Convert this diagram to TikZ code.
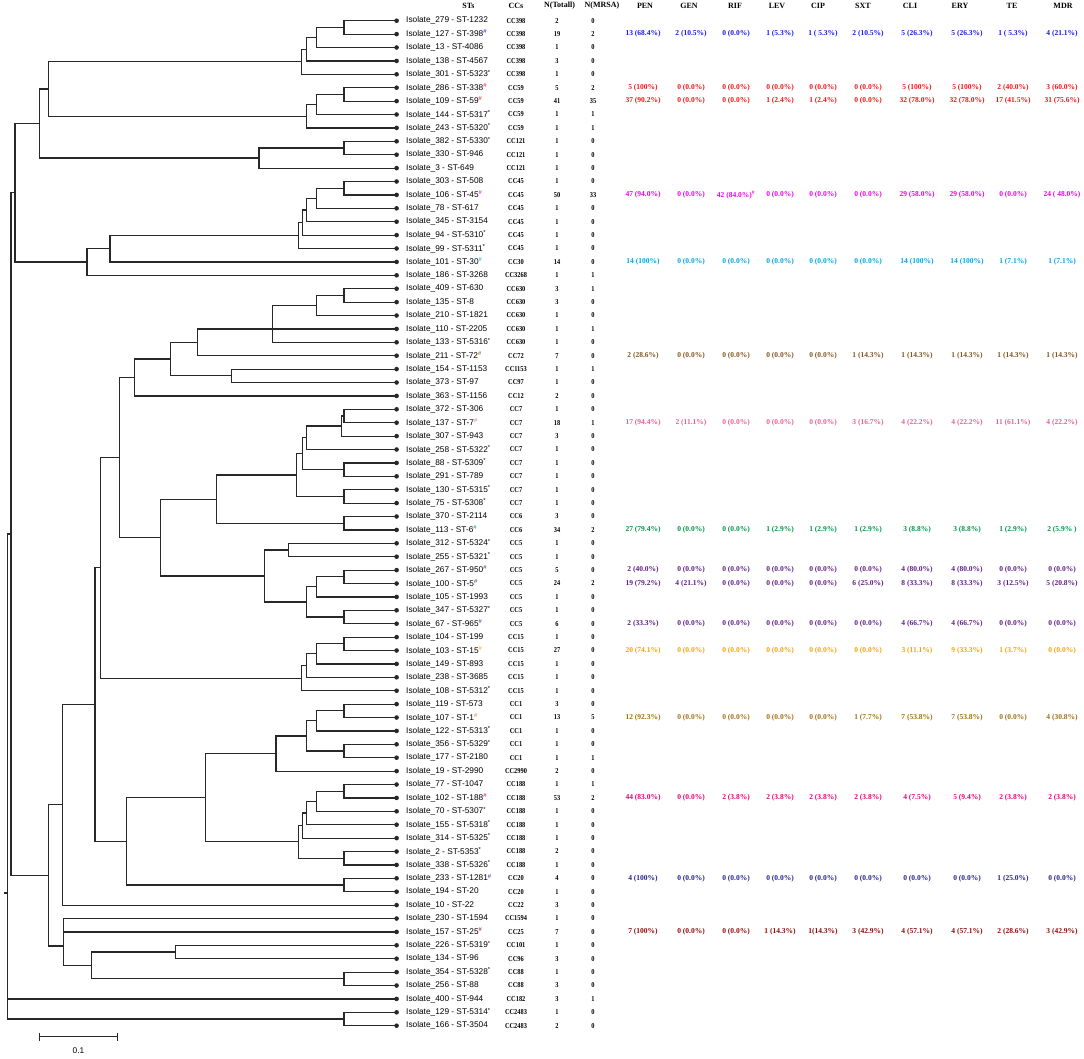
\documentclass[tikz,border=0pt]{standalone}
\usepackage{fontspec}
\setmainfont{Liberation Serif}
\newfontfamily\labfont{Liberation Sans}
\newfontfamily\ccfont[FakeStretch=0.85]{Liberation Serif}
\usetikzlibrary{calc}
\definecolor{cblue}{RGB}{25,25,235}
\definecolor{cred}{RGB}{245,20,20}
\definecolor{cmag}{RGB}{235,0,235}
\definecolor{clblue}{RGB}{0,165,230}
\definecolor{cbrown}{RGB}{130,85,30}
\definecolor{cpink}{RGB}{235,95,155}
\definecolor{cgreen}{RGB}{0,150,70}
\definecolor{cpurple}{RGB}{95,30,135}
\definecolor{corange}{RGB}{245,165,0}
\definecolor{corangeb}{RGB}{235,120,30}
\definecolor{cgold}{RGB}{165,110,20}
\definecolor{cdpink}{RGB}{230,0,115}
\definecolor{cnavy}{RGB}{35,35,140}
\definecolor{cdred}{RGB}{145,10,10}
\definecolor{treec}{RGB}{40,40,40}
\newcommand\myast{\textsuperscript{*}}
\newcommand\myhash[1]{\textsuperscript{\textcolor{#1}{\#}}}
\tikzset{
  br/.style={draw=treec, line width=1.2pt},
  lbl/.style={anchor=west, inner sep=0pt, font=\labfont\fontsize{8.3}{10}\selectfont},
  ccl/.style={inner sep=0pt, font=\ccfont\bfseries\fontsize{7.5}{9}\selectfont},
  hdr/.style={inner sep=0pt, font=\bfseries\fontsize{8}{9}\selectfont},
  dat/.style={inner sep=0pt, font=\bfseries\fontsize{7.5}{9}\selectfont},
}
% internal node: name, x, child a, child b (y = midpoint of children)
\newcommand\nd[4]{%
  \path let \p1=(#3), \p2=(#4) in coordinate (#1) at (#2pt,{(\y1+\y2)/2});
  \draw[br] (#1) |- (#3);
  \draw[br] (#1) |- (#4);
}
\begin{document}
\begin{tikzpicture}[x=1pt,y=-1pt]
\useasboundingbox (0,0) rectangle (1084,1058);
\fill[white] (0,0) rectangle (1084,1058);
% leaves
\foreach \xi in {1,...,76} {
  \coordinate (L\xi) at (396.6,{20.7+(\xi-1)*13.4});
}
% tree
\nd{a1}{344}{L1}{L2}
\nd{a2}{316.3}{a1}{L3}
\nd{a3}{306.4}{a2}{L4}
\nd{a4}{301.3}{a3}{L5}
\nd{b1}{344}{L6}{L7}
\nd{b2}{316.3}{b1}{L8}
\nd{b3}{306.4}{b2}{L9}
\nd{ab}{48.6}{a4}{b3}
\nd{c1}{344}{L10}{L11}
\nd{c2}{259}{c1}{L12}
\nd{abc}{39.5}{ab}{c2}
\nd{d1}{344}{L13}{L14}
\nd{d2}{316.3}{d1}{L15}
\nd{d3}{306.4}{d2}{L16}
\nd{d4}{302.4}{d3}{L17}
\nd{d5}{298.5}{d4}{L18}
\nd{d6}{109.9}{d5}{L19}
\nd{d7}{86.9}{d6}{L20}
\nd{top}{15}{abc}{d7}
% CC630
\nd{e1}{344}{L21}{L22}
\nd{e2}{316.3}{e1}{L23}
\path let \p1=(L24) in coordinate (e3) at (272.8pt,\y1);
\draw[br] (e3) |- (e2); \draw[br] (e3) |- (L25); \draw[br] (e3) -- (L24);
\nd{e4}{197.7}{e3}{L26}
\nd{f1}{231.3}{L27}{L28}
\nd{e5}{170.8}{e4}{f1}
\nd{e6}{134.4}{e5}{L29}
% CC7
\nd{g1}{344}{L30}{L31}
\nd{g2}{341.6}{g1}{L32}
\nd{g3}{306.4}{g2}{L33}
\nd{g4}{344}{L34}{L35}
\nd{g5}{302.4}{g3}{g4}
\nd{g6}{344}{L36}{L37}
\nd{g7}{296.5}{g5}{g6}
\nd{h1}{344}{L38}{L39}
\nd{g8}{216.7}{g7}{h1}
% CC5
\nd{i1}{288.6}{L40}{L41}
\nd{i2}{344}{L42}{L43}
\nd{i3}{316.3}{i2}{L44}
\nd{i4}{344}{L45}{L46}
\nd{i5}{306.4}{i3}{i4}
\nd{i6}{264.8}{i1}{i5}
\nd{gi}{160.1}{g8}{i6}
\nd{egi}{119.8}{e6}{gi}
% CC15
\nd{j1}{344}{L47}{L48}
\nd{j2}{316.3}{j1}{L49}
\nd{j3}{306.4}{j2}{L50}
\nd{j4}{301.3}{j3}{L51}
\nd{egij}{100.8}{egi}{j4}
% CC1
\nd{k1}{344}{L52}{L53}
\nd{k2}{316.3}{k1}{L54}
\nd{k3}{344}{L55}{L56}
\nd{k4}{306.4}{k2}{k3}
\nd{k5}{276}{k4}{L57}
% CC188
\nd{m1}{344}{L58}{L59}
\nd{m2}{316.3}{m1}{L60}
\nd{m3}{306.4}{m2}{L61}
\nd{m4}{302.4}{m3}{L62}
\nd{m5}{344}{L63}{L64}
\nd{m6}{298.5}{m4}{m5}
\nd{km}{205.6}{k5}{m6}
\nd{n1}{344}{L65}{L66}
\nd{kmn}{126.5}{km}{n1}
\nd{big}{94.9}{egij}{kmn}
\nd{big2}{62.2}{big}{L67}
% lower clade
\nd{p1}{175.2}{L70}{L71}
\nd{p2}{344}{L72}{L73}
\nd{p3}{91.7}{p1}{p2}
\coordinate (p4) at (63.3,946);
\draw[br] (p4) |- (L68); \draw[br] (p4) |- (L69); \draw[br] (p4) |- (p3);
\nd{q}{48.3}{big2}{p4}
\nd{mid}{11}{top}{q}
\nd{r1}{344}{L75}{L76}
\coordinate (root) at (7.3,893);
\draw[br] (root) |- (mid); \draw[br] (root) |- (L74); \draw[br] (root) |- (r1);
\coordinate (rootend) at (4,893);
\draw[br] (root) -- (rootend);
% leaf dots
\foreach \xi in {1,...,76} { \fill[treec] (L\xi) circle (2.3); }
% headers
\node[hdr] (hST) at (468.5,6) {STs};
\node[hdr] (hCC) at (516,6) {CCs};
\node[hdr] (hNT) at (559.5,6) {N(Totall)};
\node[hdr] (hNM) at (602,6) {N(MRSA)};
\foreach \xh/\hx [count=\xk] in {PEN/645,GEN/689,RIF/735,LEV/777,CIP/818,SXT/863,CLI/910,ERY/960,TE/1012,MDR/1063} {
  \node[hdr] (H\xk) at (\hx,6) {\xh};
}
% leaf labels and table
\foreach \xi/\xlab/\xcc/\xnt/\xnm in {
 1/{Isolate\_279 - ST-1232}/CC398/2/0,
 2/{Isolate\_127 - ST-398\myhash{cblue}}/CC398/19/2,
 3/{Isolate\_13 - ST-4086}/CC398/1/0,
 4/{Isolate\_138 - ST-4567}/CC398/3/0,
 5/{Isolate\_301 - ST-5323\myast}/CC398/1/0,
 6/{Isolate\_286 - ST-338\myhash{cred}}/CC59/5/2,
 7/{Isolate\_109 - ST-59\myhash{cred}}/CC59/41/35,
 8/{Isolate\_144 - ST-5317\myast}/CC59/1/1,
 9/{Isolate\_243 - ST-5320\myast}/CC59/1/1,
 10/{Isolate\_382 - ST-5330\myast}/CC121/1/0,
 11/{Isolate\_330 - ST-946}/CC121/1/0,
 12/{Isolate\_3 - ST-649}/CC121/1/0,
 13/{Isolate\_303 - ST-508}/CC45/1/0,
 14/{Isolate\_106 - ST-45\myhash{cmag}}/CC45/50/33,
 15/{Isolate\_78 - ST-617}/CC45/1/0,
 16/{Isolate\_345 - ST-3154}/CC45/1/0,
 17/{Isolate\_94 - ST-5310\myast}/CC45/1/0,
 18/{Isolate\_99 - ST-5311\myast}/CC45/1/0,
 19/{Isolate\_101 - ST-30\myhash{clblue}}/CC30/14/0,
 20/{Isolate\_186 - ST-3268}/CC3268/1/1,
 21/{Isolate\_409 - ST-630}/CC630/3/1,
 22/{Isolate\_135 - ST-8}/CC630/3/0,
 23/{Isolate\_210 - ST-1821}/CC630/1/0,
 24/{Isolate\_110 - ST-2205}/CC630/1/1,
 25/{Isolate\_133 - ST-5316\myast}/CC630/1/0,
 26/{Isolate\_211 - ST-72\myhash{cbrown}}/CC72/7/0,
 27/{Isolate\_154 - ST-1153}/CC1153/1/1,
 28/{Isolate\_373 - ST-97}/CC97/1/0,
 29/{Isolate\_363 - ST-1156}/CC12/2/0,
 30/{Isolate\_372 - ST-306}/CC7/1/0,
 31/{Isolate\_137 - ST-7\myhash{cpink}}/CC7/18/1,
 32/{Isolate\_307 - ST-943}/CC7/3/0,
 33/{Isolate\_258 - ST-5322\myast}/CC7/1/0,
 34/{Isolate\_88 - ST-5309\myast}/CC7/1/0,
 35/{Isolate\_291 - ST-789}/CC7/1/0,
 36/{Isolate\_130 - ST-5315\myast}/CC7/1/0,
 37/{Isolate\_75 - ST-5308\myast}/CC7/1/0,
 38/{Isolate\_370 - ST-2114}/CC6/3/0,
 39/{Isolate\_113 - ST-6\myhash{cgreen}}/CC6/34/2,
 40/{Isolate\_312 - ST-5324\myast}/CC5/1/0,
 41/{Isolate\_255 - ST-5321\myast}/CC5/1/0,
 42/{Isolate\_267 - ST-950\myhash{cpurple}}/CC5/5/0,
 43/{Isolate\_100 - ST-5\myhash{cpurple}}/CC5/24/2,
 44/{Isolate\_105 - ST-1993}/CC5/1/0,
 45/{Isolate\_347 - ST-5327\myast}/CC5/1/0,
 46/{Isolate\_67 - ST-965\myhash{cpurple}}/CC5/6/0,
 47/{Isolate\_104 - ST-199}/CC15/1/0,
 48/{Isolate\_103 - ST-15\myhash{corange}}/CC15/27/0,
 49/{Isolate\_149 - ST-893}/CC15/1/0,
 50/{Isolate\_238 - ST-3685}/CC15/1/0,
 51/{Isolate\_108 - ST-5312\myast}/CC15/1/0,
 52/{Isolate\_119 - ST-573}/CC1/3/0,
 53/{Isolate\_107 - ST-1\myhash{corangeb}}/CC1/13/5,
 54/{Isolate\_122 - ST-5313\myast}/CC1/1/0,
 55/{Isolate\_356 - ST-5329\myast}/CC1/1/0,
 56/{Isolate\_177 - ST-2180}/CC1/1/1,
 57/{Isolate\_19 - ST-2990}/CC2990/2/0,
 58/{Isolate\_77 - ST-1047}/CC188/1/1,
 59/{Isolate\_102 - ST-188\myhash{cdpink}}/CC188/53/2,
 60/{Isolate\_70 - ST-5307\myast}/CC188/1/0,
 61/{Isolate\_155 - ST-5318\myast}/CC188/1/0,
 62/{Isolate\_314 - ST-5325\myast}/CC188/1/0,
 63/{Isolate\_2 - ST-5353\myast}/CC188/2/0,
 64/{Isolate\_338 - ST-5326\myast}/CC188/1/0,
 65/{Isolate\_233 - ST-1281\myhash{cnavy}}/CC20/4/0,
 66/{Isolate\_194 - ST-20}/CC20/1/0,
 67/{Isolate\_10 - ST-22}/CC22/3/0,
 68/{Isolate\_230 - ST-1594}/CC1594/1/0,
 69/{Isolate\_157 - ST-25\myhash{cdred}}/CC25/7/0,
 70/{Isolate\_226 - ST-5319\myast}/CC101/1/0,
 71/{Isolate\_134 - ST-96}/CC96/3/0,
 72/{Isolate\_354 - ST-5328\myast}/CC88/1/0,
 73/{Isolate\_256 - ST-88}/CC88/3/0,
 74/{Isolate\_400 - ST-944}/CC182/3/1,
 75/{Isolate\_129 - ST-5314\myast}/CC2483/1/0,
 76/{Isolate\_166 - ST-3504}/CC2483/2/0} {
  \path let \p1=(L\xi) in
    node[lbl] (T\xi) at (406pt,\y1) {\xlab}
    node[ccl] (C\xi) at (516pt,\y1) {\xcc}
    node[ccl] (N\xi) at (557pt,\y1) {\xnt}
    node[ccl] (M\xi) at (593pt,\y1) {\xnm};
}
% resistance data
\def\colxs{{643,691,736,780,823,868,917,967,1013,1062}}
\foreach \xr/\xcol/\xvals in {
 2/cblue/{13 (68.4\%),2 (10.5\%),0 (0.0\%),1 (5.3\%),1 ( 5.3\%),2 (10.5\%),5 (26.3\%),5 (26.3\%),1 ( 5.3\%),4 (21.1\%)},
 6/cred/{5 (100\%),0 (0.0\%),0 (0.0\%),0 (0.0\%),0 (0.0\%),0 (0.0\%),5 (100\%),5 (100\%),2 (40.0\%),3 (60.0\%)},
 7/cred/{37 (90.2\%),0 (0.0\%),0 (0.0\%),1 (2.4\%),1 (2.4\%),0 (0.0\%),32 (78.0\%),32 (78.0\%),17 (41.5\%),31 (75.6\%)},
 14/cmag/{47 (94.0\%),0 (0.0\%),42 (84.0\%)\textsuperscript{\#},0 (0.0\%),0 (0.0\%),0 (0.0\%),29 (58.0\%),29 (58.0\%),0 (0.0\%),24 ( 48.0\%)},
 19/clblue/{14 (100\%),0 (0.0\%),0 (0.0\%),0 (0.0\%),0 (0.0\%),0 (0.0\%),14 (100\%),14 (100\%),1 (7.1\%),1 (7.1\%)},
 26/cbrown/{2 (28.6\%),0 (0.0\%),0 (0.0\%),0 (0.0\%),0 (0.0\%),1 (14.3\%),1 (14.3\%),1 (14.3\%),1 (14.3\%),1 (14.3\%)},
 31/cpink/{17 (94.4\%),2 (11.1\%),0 (0.0\%),0 (0.0\%),0 (0.0\%),3 (16.7\%),4 (22.2\%),4 (22.2\%),11 (61.1\%),4 (22.2\%)},
 39/cgreen/{27 (79.4\%),0 (0.0\%),0 (0.0\%),1 (2.9\%),1 (2.9\%),1 (2.9\%),3 (8.8\%),3 (8.8\%),1 (2.9\%),2 (5.9\% )},
 42/cpurple/{2 (40.0\%),0 (0.0\%),0 (0.0\%),0 (0.0\%),0 (0.0\%),0 (0.0\%),4 (80.0\%),4 (80.0\%),0 (0.0\%),0 (0.0\%)},
 43/cpurple/{19 (79.2\%),4 (21.1\%),0 (0.0\%),0 (0.0\%),0 (0.0\%),6 (25.0\%),8 (33.3\%),8 (33.3\%),3 (12.5\%),5 (20.8\%)},
 46/cpurple/{2 (33.3\%),0 (0.0\%),0 (0.0\%),0 (0.0\%),0 (0.0\%),0 (0.0\%),4 (66.7\%),4 (66.7\%),0 (0.0\%),0 (0.0\%)},
 48/corange/{20 (74.1\%),0 (0.0\%),0 (0.0\%),0 (0.0\%),0 (0.0\%),0 (0.0\%),3 (11.1\%),9 (33.3\%),1 (3.7\%),0 (0.0\%)},
 53/cgold/{12 (92.3\%),0 (0.0\%),0 (0.0\%),0 (0.0\%),0 (0.0\%),1 (7.7\%),7 (53.8\%),7 (53.8\%),0 (0.0\%),4 (30.8\%)},
 59/cdpink/{44 (83.0\%),0 (0.0\%),2 (3.8\%),2 (3.8\%),2 (3.8\%),2 (3.8\%),4 (7.5\%),5 (9.4\%),2 (3.8\%),2 (3.8\%)},
 65/cnavy/{4 (100\%),0 (0.0\%),0 (0.0\%),0 (0.0\%),0 (0.0\%),0 (0.0\%),0 (0.0\%),0 (0.0\%),1 (25.0\%),0 (0.0\%)},
 69/cdred/{7 (100\%),0 (0.0\%),0 (0.0\%),1 (14.3\%),1(14.3\%),3 (42.9\%),4 (57.1\%),4 (57.1\%),2 (28.6\%),3 (42.9\%)}} {
  \foreach \xv [count=\xk] in \xvals {
    \pgfmathsetmacro\cx{\colxs[\xk-1]}
    \path let \p1=(L\xr) in node[dat, text=\xcol] (D\xr-\xk) at (\cx pt,\y1) {\xv};
  }
}
% scale bar
\coordinate (sb1) at (39.3,1036.7);
\coordinate (sb2) at (117.7,1036.7);
\draw[line width=1pt, treec] (sb1) -- (sb2);
\draw[line width=1pt, treec] ($(sb1)+(0,-4)$) -- ($(sb1)+(0,4)$);
\draw[line width=1pt, treec] ($(sb2)+(0,-4)$) -- ($(sb2)+(0,4)$);
\node[lbl, anchor=center] (sbl) at (78.5,1051) {0.1};
\end{tikzpicture}
\end{document}
